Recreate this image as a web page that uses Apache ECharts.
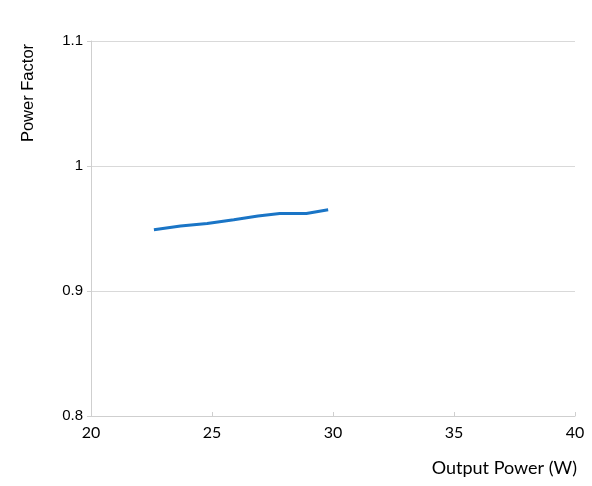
<!DOCTYPE html>
<html>
<head>
<meta charset="utf-8">
<script src="https://cdn.jsdelivr.net/npm/echarts@6/dist/echarts.min.js"></script>
<style>html,body{margin:0;padding:0;background:#fff}#c{width:592px;height:486px}</style>
</head>
<body>
<div id="c"></div>
<script>
const outputPower = [22.6, 23.7, 24.8, 25.9, 26.9, 27.8, 28.9, 29.8];
const powerFactor = [0.949, 0.952, 0.954, 0.957, 0.960, 0.962, 0.962, 0.965];
const xTicks = [20, 25, 30, 35, 40];
const yTicks = [0.8, 0.9, 1, 1.1];
const xTitle = 'Output Power (W)';
const yTitle = 'Power Factor';

const chart = echarts.init(document.getElementById('c'));
chart.setOption({
  animation: false,
  grid: {left: 91, right: 17, top: 41, bottom: 70, containLabel: false},
  graphic: [
    {type: 'text', right: 15, top: 459,
      style: {text: xTitle, fontFamily: 'Lato', fontSize: 18, fill: '#000'}},
    {type: 'text', x: 20, y: 93, rotation: Math.PI / 2,
      style: {text: yTitle, fontFamily: 'Liberation Sans', fontSize: 16.5, fill: '#000',
        align: 'center', verticalAlign: 'top'}}
  ],
  xAxis: {
    type: 'value', min: 20, max: 40, interval: 5,
    axisLine: {lineStyle: {color: '#cfcfcf', width: 1}},
    axisTick: {show: true, inside: true, length: 4, lineStyle: {color: '#cfcfcf'}},
    axisLabel: {fontFamily: 'Lato', fontSize: 16, color: '#000', margin: 9},
    splitLine: {show: false}
  },
  yAxis: {
    type: 'value', min: 0.8, max: 1.1, interval: 0.1,
    axisLine: {show: true, lineStyle: {color: '#cfcfcf', width: 1}},
    axisTick: {show: true, length: 4, lineStyle: {color: '#cfcfcf'}},
    axisLabel: {fontFamily: 'Liberation Sans', fontSize: 15, color: '#000', margin: 8,
      formatter: v => String(Math.round(v * 10) / 10)},
    splitLine: {show: true, lineStyle: {color: '#d9d9d9', width: 1}}
  },
  series: [{
    type: 'line',
    data: outputPower.map((x, i) => [x, powerFactor[i]]),
    showSymbol: false,
    lineStyle: {color: '#1a75c6', width: 3},
    itemStyle: {color: '#1a75c6'}
  }]
});
</script>
</body>
</html>
